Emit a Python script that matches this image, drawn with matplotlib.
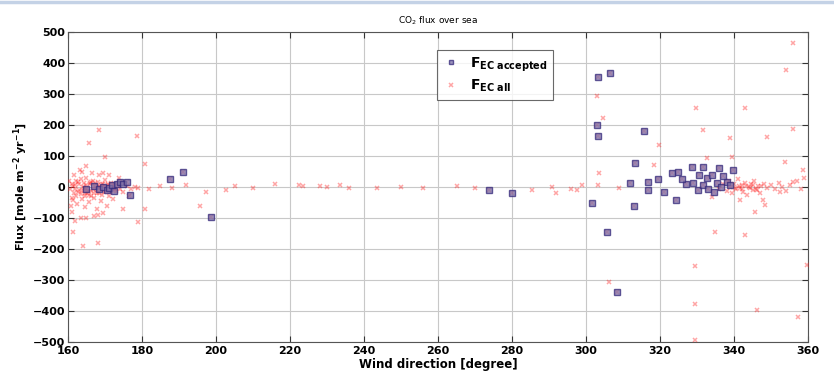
import matplotlib
matplotlib.use("Agg")
import matplotlib.pyplot as plt
from matplotlib.lines import Line2D

# ---- data (wind direction [deg], flux [mole m-2 yr-1]) ----
all_dir = [
    # dense cluster 160-180
    160.5, 161, 161.5, 162, 162.3, 162.8, 163, 163.4, 163.8, 164, 164.3, 164.7, 165, 165.2,
    165.6, 166, 166.3, 166.7, 167, 167.2, 167.6, 168, 168.3, 168.7, 169, 169.3, 169.7, 170,
    170.4, 170.8, 171.2, 171.6, 172, 172.5, 173, 173.5, 174, 175, 176, 177, 178, 179,
    160.8, 161.7, 162.5, 163.2, 164.5, 165.8, 166.5, 167.8, 168.5, 170.5, 171, 172.2, 173.8,
    176.5, 161.2, 162, 163.5, 166.9, 160.3, 161,
    161.3, 161.9, 162.6, 163.1, 163.6, 164.2, 164.9, 165.4, 165.9, 166.2, 166.8, 167.4,
    167.9, 168.2, 168.9, 169.2, 169.8, 170.2, 170.7, 171.4, 171.9, 172.8, 164.6, 166.1,
    167.1, 168.6, 169.6, 162.2, 163.9, 165.1,
    # scattered 160-225
    168.4, 165.7, 178.6, 170, 180.8, 165, 163.8, 169.5, 161.4, 164, 168, 169.5, 168, 165,
    174.9, 178.9, 180.8, 161.4, 195.7, 197.3, 192, 202.7, 216, 222.4,
    # near zero 180-300
    182, 185, 188, 205, 210, 223.5, 228, 230, 233.5, 236, 243.5, 250, 256, 265, 270,
    285.4, 290.8, 292, 296, 297.6, 299,
    # 300-360 scattered
    355.9, 354, 303, 329.7, 343, 304.6, 331.6, 356, 338.9, 348.9, 319.7, 339.5, 303.5,
    318.4, 353.8, 332.7, 334.9, 343, 329.5, 306.2, 329.5, 346.2, 357.3, 329.5, 359.7,
    308.9, 303.2, 358.6, 355.9, 352.4, 347.8, 345.7, 348.4, 341.6, 334,
    # 336-360 cluster
    336, 337, 338, 338.5, 339, 339.5, 340, 340.5, 341, 341.5, 342, 342.5, 343, 343.5, 344,
    344.5, 345, 345.5, 346, 346.5, 347, 348, 349, 350, 351, 352, 353, 354, 355, 357, 358, 359,
    340.2, 341.2, 342.2, 343.2, 344.2, 345.2, 346.2, 347.2,
]
all_flux = [
    -5, 10, -20, 5, -30, 15, -10, 25, -40, 0, 12, -18, 30, -5,
    -25, 8, -12, 20, -35, 3, -8, 15, -20, 0, -45, 10, -15, 22,
    -5, 5, -28, 12, -3, 8, -12, 2, -6, -15, 4, -8, 0, -4,
    -60, 40, -55, 55, -65, -50, 45, -70, 38, -60, 40, -40, 30,
    -30, -80, -110, -100, -95, 20, -35,
    2, -8, -15, 8, -22, -2, 5, -14, 12, -30, -6, 14,
    -18, 6, -10, -25, 4, -12, 10, -16, 0, -8, -28, 16,
    -20, -4, 8, 18, -12, -20,
    184, 142, 165, 97, 74, 68, 48, 45, -145, -190, -180, -84, -90, -100,
    -71, -113, -71, -42, -61, -16, 6, -10, 9, 6,
    -5, 3, -2, 2, -3, 3, 4, 0, 6, -2, -3, 1, -4, 2, -3,
    -10, 0, -19, -6, -10, 5,
    465, 377, 294, 255, 255, 222, 184, 187, 158, 161, 135, 97, 45,
    71, 81, 94, -145, -155, -255, -306, -377, -397, -419, -494, -252,
    -3, 6, 55, 16, -16, -42, -81, -58, -42, -32,
    -5, 8, -12, 20, 0, -20, 10, -8, 25, -3, 5, -15, 12, -25, 0,
    8, -10, 18, -5, 3, -18, 10, -2, 6, -8, 12, 0, -12, 5, 20, -5, 30,
    -2, 4, -8, 2, -4, 6, -10, 3,
]

acc_dir = [
    165, 167, 168.5, 169.5, 170.5, 171, 171.8, 172.5, 173.2, 174, 175, 176, 176.8,
    187.6, 191, 198.6, 273.8, 280,
    303.2, 306.5, 303, 303.2, 315.7, 313.2, 311.9, 316.8, 316.8, 319.5, 321, 324.3, 313,
    305.7, 308.4, 301.6, 323.2, 324.9, 328.6, 331.6, 335.9, 339.7, 329, 330.3, 332.7, 334,
    335.4, 338.1, 331.6, 339, 327, 333, 336.5, 326, 330.5, 337, 334.5,
]
acc_flux = [
    -5, 3, -8, 0, -10, -3, 5, -12, 10, 16, 8, 16, -26,
    26, 48, -97, -10, -19,
    355, 367, 200, 165, 180, 77, 13, 16, -10, 26, -16, -42, -61,
    -145, -339, -52, 45, 48, 65, 65, 61, 55, 13, -10, 29, 39,
    13, 16, 6, 6, 10, -5, 0, 25, 40, 35, -15,
]

x_ticks = list(range(160, 361, 20))
y_ticks = list(range(-500, 501, 100))

# ---- figure ----
fig = plt.figure(figsize=(8.34, 3.80), dpi=100)
ax = fig.add_axes([0.0815, 0.1, 0.8875, 0.816])

ax.plot(all_dir + acc_dir, all_flux + acc_flux, linestyle='none', marker='x',
        markersize=3.5, markeredgewidth=1.1, color='#ff2020', alpha=0.4,
        label=r'$\mathbf{F}_{\mathbf{EC\ all}}$', zorder=3)
ax.plot(acc_dir, acc_flux, linestyle='none', marker='s', markersize=4.2,
        markeredgewidth=1.0, markeredgecolor='#34287a', markerfacecolor='#7e72a8',
        alpha=0.75, label=r'$\mathbf{F}_{\mathbf{EC\ accepted}}$', zorder=4)

ax.set_xlim(160, 360)
ax.set_ylim(-500, 500)
ax.set_xticks(x_ticks)
ax.set_yticks(y_ticks)
ax.grid(True, color='#c8c8c8', linewidth=0.8)
ax.set_axisbelow(True)
for lab in ax.get_xticklabels() + ax.get_yticklabels():
    lab.set_fontweight('bold')
    lab.set_fontsize(8)
ax.tick_params(direction='in', length=4, color='#333333', top=True, right=True)
ax.tick_params(axis='x', pad=3)
ax.tick_params(axis='y', pad=2)
for s in ax.spines.values():
    s.set_color('#555555')

ax.set_xlabel('Wind direction [degree]', fontsize=8.5, fontweight='bold', labelpad=1)
ax.set_ylabel(r'Flux [mole m$^{\mathbf{-2}}$ yr$^{\mathbf{-1}}$]', fontsize=8,
              fontweight='bold', labelpad=2)
ax.set_title(r'CO$_2$ flux over sea', fontsize=6.5, pad=6)

handles, labels = ax.get_legend_handles_labels()
leg = ax.legend([handles[1], handles[0]], [labels[1], labels[0]],
                loc='upper left', bbox_to_anchor=(0.489, 0.965), fontsize=10,
                frameon=True, fancybox=False, edgecolor='#444444', handlelength=1.2,
                borderpad=0.4, labelspacing=0.3, markerscale=0.8)
leg.get_frame().set_linewidth(0.8)

# faint slide border at the top
fig.add_artist(Line2D([0, 1], [0.996, 0.996], transform=fig.transFigure,
                      color='#c4d2e6', linewidth=2.5))

fig.savefig('out.png', dpi=100)
